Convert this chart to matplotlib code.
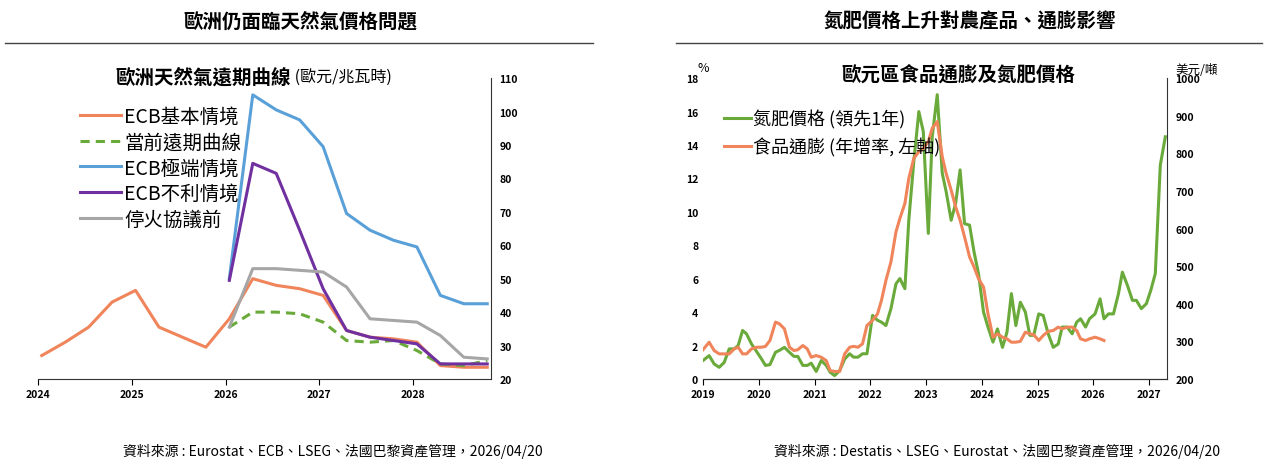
import matplotlib.pyplot as plt
from matplotlib.lines import Line2D

plt.rcParams['font.family'] = ['Noto Sans CJK TC', 'DejaVu Sans']

# ---- left chart: gas forward curve (EUR/MWh), quarterly
q_all = [2024.04 + 0.25 * i for i in range(20)]
q_scen = q_all[8:]
ecb_base = [27, 31, 35.5, 43, 46.5, 35.5, 32.5, 29.5, 38, 50, 48, 47, 45, 34.5, 32.5, 32, 31, 24, 23.5, 23.5]
fwd_curve = [35.5, 40, 40, 39.5, 37, 31.5, 31, 31.5, 28.5, 24.5, 24, 25.5]
ecb_severe = [50, 105, 100.5, 97.5, 89.5, 69.5, 64.5, 61.5, 59.5, 45, 42.5, 42.5]
ecb_adverse = [49.5, 84.5, 81.5, 64.5, 47, 34.5, 32.5, 31.5, 30.5, 24.5, 24.5, 24.5]
pre_ceasefire = [35.5, 53, 53, 52.5, 52, 47.5, 38, 37.5, 37, 33, 26.5, 26]

# ---- right chart: food inflation (%) and nitrogen fertilizer (USD/t, lead 1y)
fert_x = [2019.0, 2019.11, 2019.2, 2019.29, 2019.38, 2019.47, 2019.56, 2019.63, 2019.71, 2019.78,
          2019.87, 2019.97, 2020.05, 2020.12, 2020.2, 2020.3, 2020.37, 2020.46, 2020.55, 2020.63,
          2020.7, 2020.79, 2020.87, 2020.94, 2021.03, 2021.12, 2021.21, 2021.28, 2021.36, 2021.45,
          2021.54, 2021.63, 2021.7, 2021.78, 2021.86, 2021.94, 2022.04, 2022.13, 2022.2, 2022.28,
          2022.37, 2022.46, 2022.53, 2022.62, 2022.69, 2022.78, 2022.87, 2022.95, 2023.04, 2023.11,
          2023.2, 2023.29, 2023.36, 2023.45, 2023.53, 2023.61, 2023.69, 2023.78, 2023.86, 2023.94,
          2024.03, 2024.11, 2024.2, 2024.28, 2024.37, 2024.45, 2024.53, 2024.61, 2024.69, 2024.78,
          2024.86, 2024.93, 2025.02, 2025.1, 2025.19, 2025.28, 2025.37, 2025.44, 2025.53, 2025.62,
          2025.7, 2025.77, 2025.86, 2025.93, 2026.03, 2026.12, 2026.19, 2026.27, 2026.36, 2026.45,
          2026.52, 2026.61, 2026.7, 2026.77, 2026.86, 2026.95, 2027.03, 2027.11, 2027.2, 2027.29]
fert_price = [249, 262, 240, 231, 244, 280, 280, 289, 329, 320,
              293, 271, 253, 236, 238, 271, 276, 284, 271, 260,
              260, 236, 236, 242, 220, 249, 236, 218, 209, 222,
              253, 267, 258, 258, 267, 267, 369, 356, 351, 342,
              387, 453, 467, 440, 622, 778, 911, 858, 587, 844,
              956, 747, 698, 622, 667, 756, 613, 609, 538, 480,
              378, 338, 298, 333, 284, 324, 427, 342, 404, 378,
              316, 316, 373, 369, 320, 284, 293, 338, 338, 320,
              351, 360, 338, 360, 373, 413, 360, 373, 373, 427,
              484, 449, 409, 409, 387, 400, 436, 480, 769, 844]

food_infl = [1.75, 2.2, 1.7, 1.5, 1.5, 1.5, 1.8, 1.9, 1.5, 1.5,
             1.8, 1.9, 1.9, 1.95, 2.3, 3.4, 3.3, 3.0, 1.9, 1.7,
             1.75, 2.0, 1.8, 1.3, 1.4, 1.3, 1.1, 0.5, 0.45, 0.45,
             1.5, 1.9, 1.95, 1.9, 2.1, 3.2, 3.5, 3.9, 4.7, 5.9,
             7.0, 8.8, 9.6, 10.5, 12.0, 13.2, 13.6, 13.8, 14.2, 15.0,
             15.4, 13.3, 12.3, 11.3, 10.3, 9.5, 8.5, 7.3, 6.7, 6.0,
             5.5, 3.9, 2.5, 2.7, 2.5, 2.4, 2.2, 2.2, 2.25, 2.8,
             2.7, 2.65, 2.3, 2.6, 2.85, 2.9, 3.1, 3.0, 3.1, 3.1,
             2.9, 2.4, 2.3, 2.4, 2.5, 2.4, 2.3]
food_x = fert_x[:len(food_infl)]

ORANGE = '#f0845a'
GREEN = '#6aaa3a'
BLUE = '#5aa0d8'
PURPLE = '#7030a0'
GREY = '#a6a6a6'
TICK = dict(fontsize=7.5, fontweight='bold')

fig = plt.figure(figsize=(12.66, 4.6), dpi=100)

# section headings
fig.text(300 / 1266, 1 - 22 / 460, '歐洲仍面臨天然氣價格問題', ha='center', va='center', fontsize=14, fontweight='bold')
fig.text(970 / 1266, 1 - 22 / 460, '氮肥價格上升對農產品、通膨影響', ha='center', va='center', fontsize=14, fontweight='bold')
fig.add_artist(Line2D([5 / 1266, 593 / 1266], [1 - 44 / 460] * 2, color='#444444', lw=1))
fig.add_artist(Line2D([676 / 1266, 1262 / 1266], [1 - 44 / 460] * 2, color='#444444', lw=1))
fig.text(333 / 1266, 1 - 451 / 460, '資料來源 : Eurostat、ECB、LSEG、法國巴黎資產管理，2026/04/20', ha='center', va='center', fontsize=10)
fig.text(997 / 1266, 1 - 451 / 460, '資料來源 : Destatis、LSEG、Eurostat、法國巴黎資產管理，2026/04/20', ha='center', va='center', fontsize=10)

# ---- left
ax = fig.add_axes([38 / 1266, 0.174, 453 / 1266, 0.654])
ax.plot(q_all, ecb_base, color=ORANGE, lw=2.2, label='ECB基本情境')
ax.plot(q_scen, fwd_curve, color=GREEN, lw=2.2, ls=(0, (3, 2)), label='當前遠期曲線')
ax.plot(q_scen, ecb_severe, color=BLUE, lw=2.2, label='ECB極端情境')
ax.plot(q_scen, ecb_adverse, color=PURPLE, lw=2.2, label='ECB不利情境')
ax.plot(q_scen, pre_ceasefire, color=GREY, lw=2.2, label='停火協議前')
ax.set_xlim(2024, 2028.83)
ax.set_ylim(20, 110)
ax.set_xticks([2024, 2025, 2026, 2027, 2028])
ax.set_xticklabels(['2024', '2025', '2026', '2027', '2028'], **TICK)
ax.set_yticks(range(20, 111, 10))
ax.set_yticklabels([str(v) for v in range(20, 111, 10)], **TICK)
ax.yaxis.tick_right()
ax.tick_params(axis='y', length=0, pad=6)
ax.tick_params(axis='x', length=4, direction='out')
for s in ['top', 'left']:
    ax.spines[s].set_visible(False)
ax.spines['right'].set_color('#333333')
ax.spines['bottom'].set_color('#333333')
fig.text(291 / 1266, 1 - 78 / 460, '歐洲天然氣遠期曲線', ha='right', va='center', fontsize=14, fontweight='bold')
fig.text(291 / 1266, 1 - 78 / 460, ' (歐元/兆瓦時)', ha='left', va='center', fontsize=11.5)
ax.legend(loc='upper left', bbox_to_anchor=(0.075, 0.935), frameon=False, fontsize=14,
          handlelength=2.1, labelspacing=0.25, handletextpad=0.2, borderaxespad=0)

# ---- right
ax2 = fig.add_axes([703 / 1266, 0.174, 464 / 1266, 0.654])
ax3 = ax2.twinx()
l1, = ax3.plot(fert_x, fert_price, color=GREEN, lw=2.2, label='氮肥價格 (領先1年)')
l2, = ax2.plot(food_x, food_infl, color=ORANGE, lw=2.2, label='食品通膨 (年增率, 左軸)')
ax2.set_zorder(ax3.get_zorder() + 1)
ax2.patch.set_visible(False)
ax2.set_xlim(2019, 2027.32)
ax2.set_ylim(0, 18)
ax3.set_ylim(200, 1000)
ax2.set_yticks(range(0, 19, 2))
ax2.set_yticklabels([str(v) for v in range(0, 19, 2)], **TICK)
ax3.set_yticks(range(200, 1001, 100))
ax3.set_yticklabels([str(v) for v in range(200, 1001, 100)], **TICK)
ax2.set_xticks(range(2019, 2028))
ax2.set_xticklabels([str(y) for y in range(2019, 2028)], **TICK)
ax2.tick_params(axis='y', length=0)
ax3.tick_params(axis='y', length=0, pad=6)
ax2.tick_params(axis='x', length=4)
for a in (ax2, ax3):
    a.spines['top'].set_visible(False)
    a.spines['left'].set_visible(False)
ax2.spines['right'].set_visible(False)
ax3.spines['right'].set_color('#333333')
ax2.spines['bottom'].set_color('#333333')
fig.text(958 / 1266, 1 - 75 / 460, '歐元區食品通膨及氮肥價格', ha='center', va='center', fontsize=14, fontweight='bold')
fig.text(697 / 1266, 1 - 69 / 460, '%', ha='left', va='center', fontsize=9)
fig.text(1197 / 1266, 1 - 70 / 460, '美元/噸', ha='center', va='center', fontsize=9)
ax2.legend([l1, l2], [l1.get_label(), l2.get_label()], loc='upper left', bbox_to_anchor=(0.03, 0.92),
           frameon=False, fontsize=13, handlelength=1.5, handletextpad=0.1, labelspacing=0.5, borderaxespad=0)

fig.savefig('out.png', dpi=100)
